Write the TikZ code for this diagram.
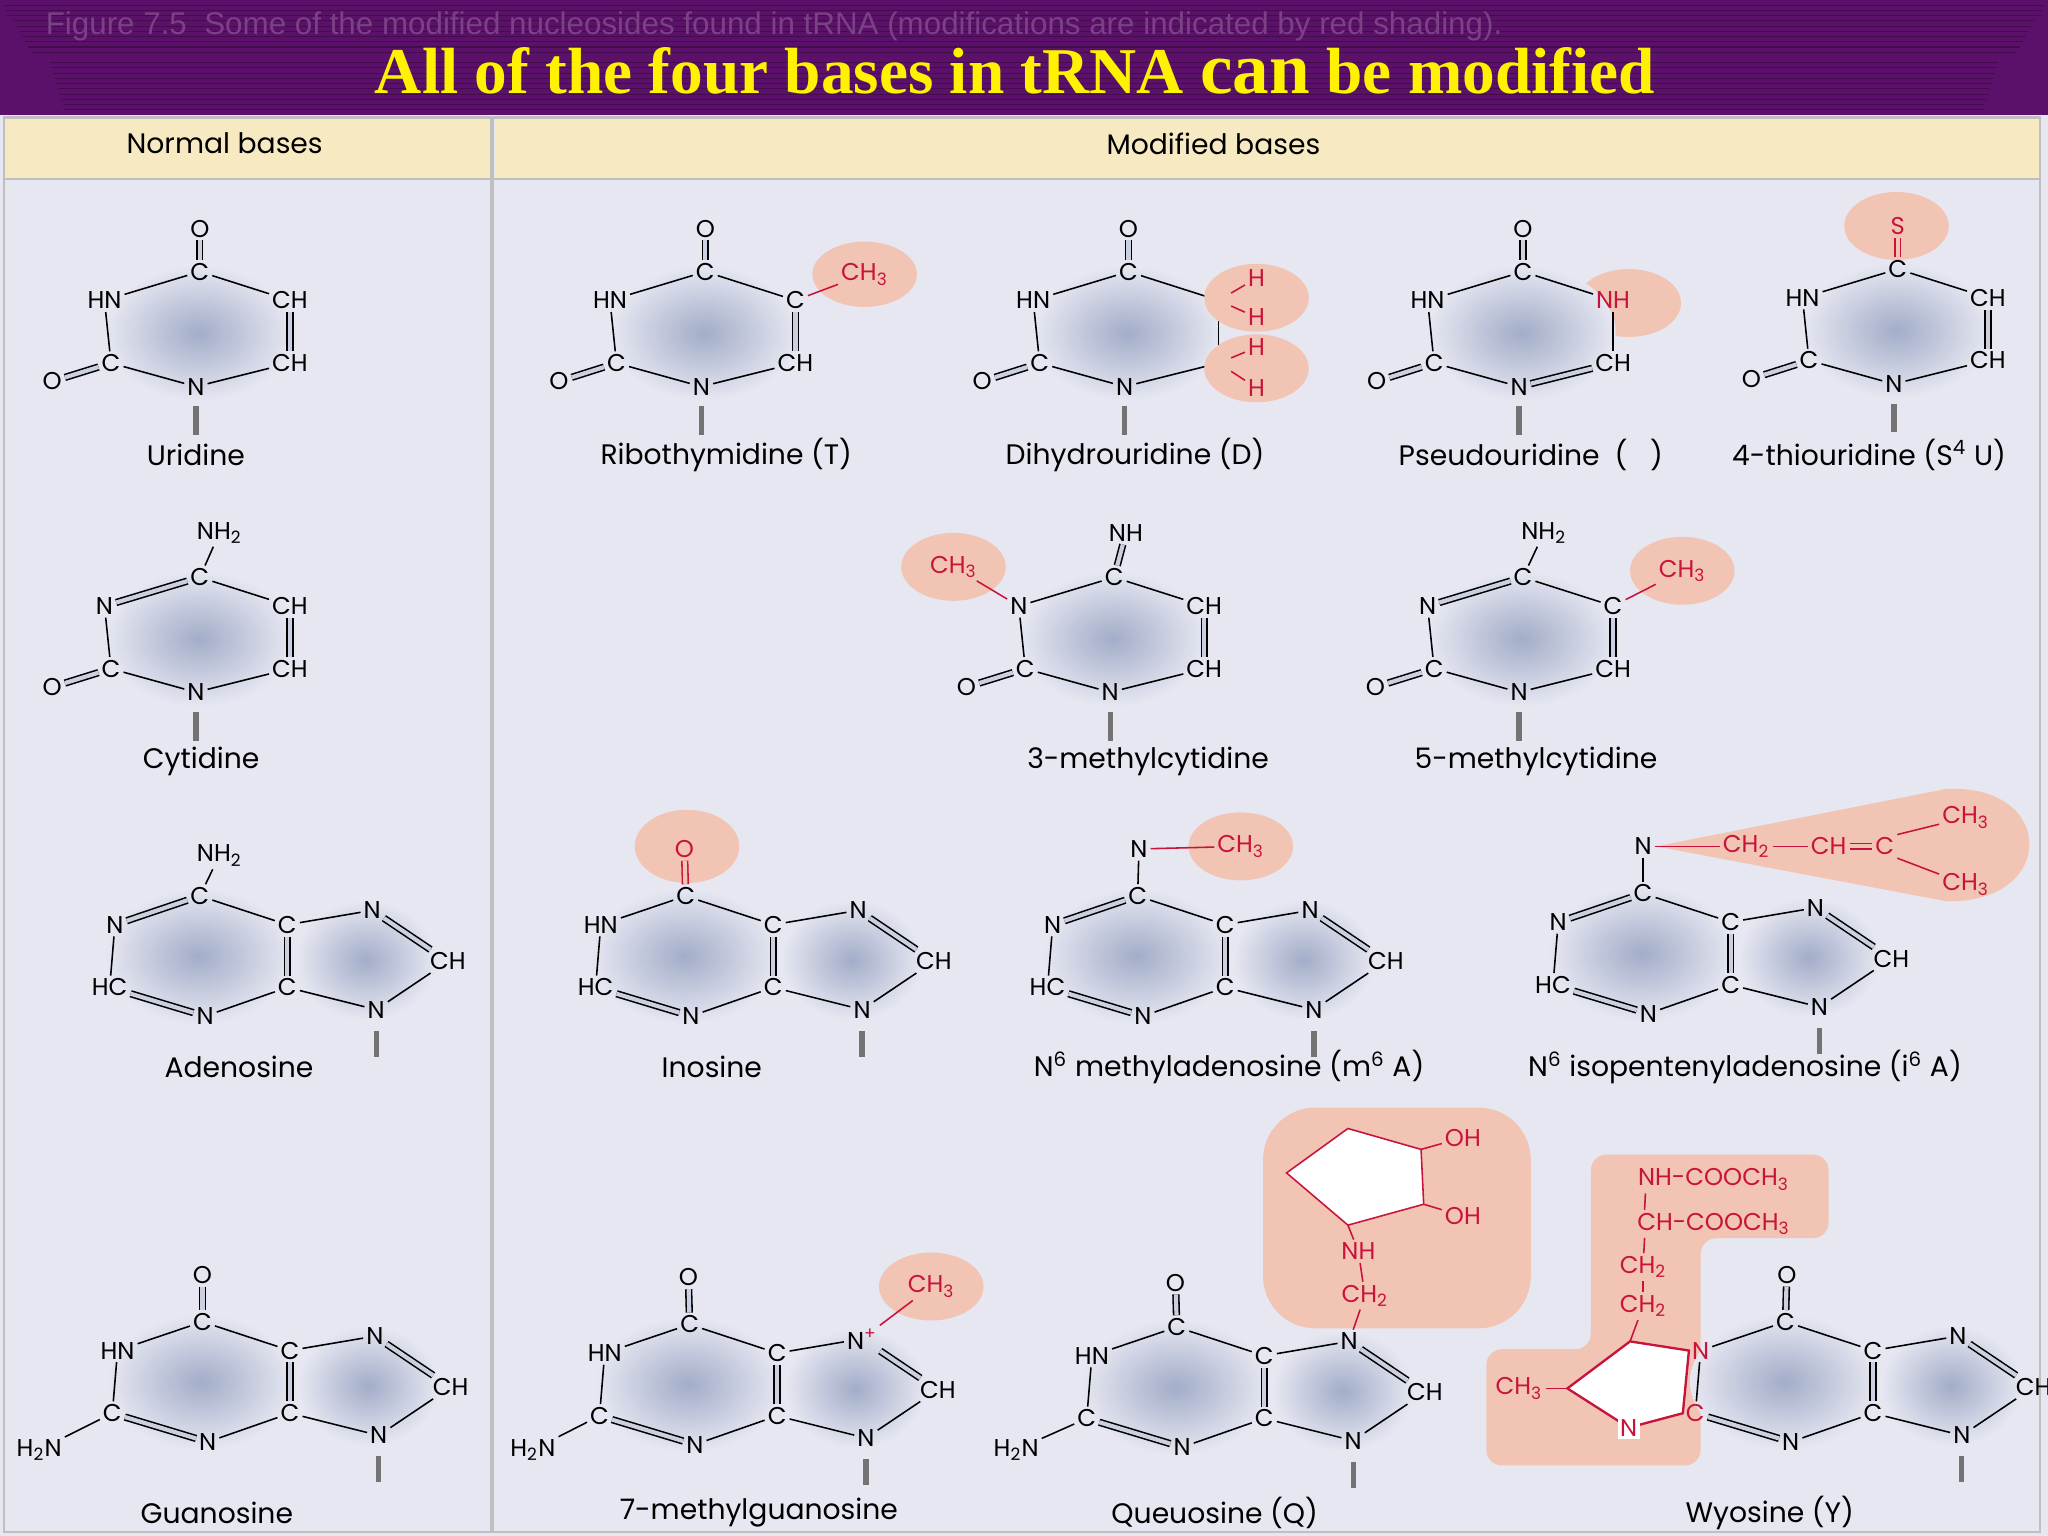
\documentclass[tikz,border=0pt]{standalone}
\usepackage{fontspec}
\setmainfont{Poppins}
\newfontfamily\titlefont{Liberation Serif}
\newfontfamily\figfont{Liberation Sans}
\usetikzlibrary{calc}
\definecolor{panel}{HTML}{E6E7F1}
\definecolor{ringc}{HTML}{A3ADC9}
\definecolor{pinkc}{HTML}{F2C4B3}
\definecolor{redc}{HTML}{C8143C}
\definecolor{headc}{HTML}{F7EAC3}
\definecolor{titlebg}{HTML}{5B1069}
\tikzset{
 atom/.style={inner sep=1pt,font=\fontsize{9.3}{10}\selectfont},
 ratom/.style={atom,text=redc},
 lbl/.style={font=\fontsize{10.8}{11}\selectfont},
 bd/.style={draw=black,line width=0.6pt},
 db/.style={draw=black,line width=0.6pt,double,double distance=1.6pt,double=panel!60!ringc},
 rb/.style={draw=redc,line width=0.6pt},
 rdb/.style={draw=redc,line width=0.6pt,double,double distance=1.6pt,double=pinkc},
 stubl/.style={draw=black!55,line width=2pt},
 hl/.style={fill=pinkc}
}
% pyrimidine: prefix, cx, cy, t4, t3, t5, t6, t2, t1
\newcommand\pyr[9]{%
 \shade[inner color=ringc,outer color=panel] (#2+2,#3) ellipse [x radius=36pt,y radius=26pt];
 \node[atom] (#1c4) at (#2+3,#3-47) {#4};
 \node[atom] (#1c3) at (#2-70,#3-25) {#5};
 \node[atom] (#1c5) at (#2+72,#3-25) {#6};
 \node[atom] (#1c6) at (#2+72,#3+23) {#7};
 \node[atom] (#1c2) at (#2-65,#3+23) {#8};
 \node[atom] (#1c1) at (#2,#3+41) {#9};
 \draw[stubl] (#2,#3+56) -- (#2,#3+78);}
% ring bonds: prefix, 4-5, 5-6, 6-1, 1-2, 2-3, 3-4
\newcommand\rbonds[7]{%
 \draw[#2] (#1c4)--(#1c5); \draw[#3] (#1c5)--(#1c6); \draw[#4] (#1c6)--(#1c1);
 \draw[#5] (#1c1)--(#1c2); \draw[#6] (#1c2)--(#1c3); \draw[#7] (#1c3)--(#1c4);}
% purine: prefix, cx, cy, t6, t1, t2, t7, bond 1-6
\newcommand\pur[8]{%
 \shade[inner color=ringc,outer color=panel] (#2,#3) ellipse [x radius=36pt,y radius=26pt];
 \shade[inner color=ringc,outer color=panel] (#2+128,#3+3) ellipse [x radius=27pt,y radius=23pt];
 \node[atom] (#1c6) at (#2+1,#3-46) {#4};
 \node[atom] (#1c1) at (#2-64,#3-24) {#5};
 \node[atom] (#1c5) at (#2+68,#3-24) {C};
 \node[atom] (#1c4) at (#2+68,#3+24) {C};
 \node[atom] (#1c2) at (#2-68,#3+24) {#6};
 \node[atom] (#1c3) at (#2+5,#3+46) {N};
 \node[atom] (#1c7) at (#2+133,#3-35) {#7};
 \node[atom] (#1c8) at (#2+191,#3+4) {CH};
 \node[atom] (#1c9) at (#2+136,#3+41) {N};
 \draw[bd] (#1c6)--(#1c5); \draw[db] (#1c5)--(#1c4); \draw[bd] (#1c4)--(#1c3);
 \draw[db] (#1c3)--(#1c2); \draw[bd] (#1c2)--(#1c1); \draw[#8] (#1c1)--(#1c6);
 \draw[bd] (#1c5)--(#1c7); \draw[db] (#1c7)--(#1c8); \draw[bd] (#1c8)--(#1c9); \draw[bd] (#1c9)--(#1c4);
 \draw[stubl] (#2+136,#3+57) -- (#2+136,#3+77);}
\begin{document}
\begin{tikzpicture}[x=0.5pt,y=-0.5pt]
\useasboundingbox (0,0) rectangle (1568,1176);
% title bar
\fill[titlebg] (0,0) rectangle (1568,88);
\foreach \i in {4,8,...,40} {\draw[titlebg!75!black,line width=0.4pt] (\i*0.6,\i) -- (1568-\i*0.6,\i);}
\foreach \i in {48,52,...,84} {\draw[titlebg!75!black,line width=0.4pt] (24+0.3*\i,\i) -- (1544-0.3*\i,\i);}
\node[text=titlebg!80!white,font=\figfont\fontsize{12}{12}\selectfont,anchor=west] (fig) at (28,20) {Figure 7.5\ \ Some of the modified nucleosides found in tRNA (modifications are indicated by red shading).};
\node[text=yellow,font=\titlefont\bfseries\fontsize{25}{26}\selectfont] (title) at (777,54) {All of the four bases in tRNA {\fontsize{28}{28}\selectfont can} be modified};
% panels
\fill[panel] (0,88) rectangle (1568,1176);
\fill[headc] (3,90) rectangle (375,137);
\fill[headc] (380,90) rectangle (1562,137);
\draw[black!25,line width=1pt] (3,90) rectangle (1562,1173);
\draw[black!25,line width=1.5pt] (377,90) -- (377,1173);
\draw[black!25,line width=1pt] (3,137) -- (1562,137);
\node[lbl] (hn) at (172,110) {Normal bases};
\node[lbl] (hm) at (929,110) {Modified bases};

% ===== Row 1 =====
\pyr{u}{150}{255}{C}{HN}{CH}{CH}{C}{N}
\rbonds{u}{bd}{db}{bd}{bd}{bd}{bd}
\node[atom] (uo) at (153,175) {O}; \draw[db] (uo)--(uc4);
\node[atom] (uo2) at (40,292) {O}; \draw[db] (uo2)--(uc2);
\node[lbl] (ul) at (150,348) {Uridine};

\pyr{t}{537}{255}{C}{HN}{C}{CH}{C}{N}
\rbonds{t}{bd}{db}{bd}{bd}{bd}{bd}
\node[atom] (to) at (540,175) {O}; \draw[db] (to)--(tc4);
\node[atom] (to2) at (428,292) {O}; \draw[db] (to2)--(tc2);
\fill[hl] (662,210) ellipse [x radius=20pt,y radius=12.5pt];
\node[ratom] (tme) at (662,210) {CH\textsubscript{3}}; \draw[rb] (tc5)--(tme);
\node[lbl] (tl) at (556,348) {Ribothymidine (T)};

\pyr{d}{861}{255}{C}{HN}{C}{C}{C}{N}
\rbonds{d}{bd}{bd}{bd}{bd}{bd}{bd}
\node[atom] (do) at (864,175) {O}; \draw[db] (do)--(dc4);
\node[atom] (do2) at (752,292) {O}; \draw[db] (do2)--(dc2);
\fill[hl] (962,228) ellipse [x radius=20pt,y radius=13pt];
\fill[hl] (962,282) ellipse [x radius=20pt,y radius=13pt];
\node[ratom] (dh1) at (962,213) {H}; \node[ratom] (dh2) at (962,243) {H};
\node[ratom] (dh3) at (962,266) {H}; \node[ratom] (dh4) at (962,297) {H};
\draw[rb] (dc5)--(dh1); \draw[rb] (dc5)--(dh2); \draw[rb] (dc6)--(dh3); \draw[rb] (dc6)--(dh4);
\node[lbl] (dl) at (869,348) {Dihydrouridine (D)};

\fill[hl] (1247,232) ellipse [x radius=20pt,y radius=13pt];
\pyr{p}{1163}{255}{C}{HN}{\textcolor{redc}{NH}}{CH}{C}{N}
\rbonds{p}{bd}{bd}{db}{bd}{bd}{bd}
\node[atom] (po) at (1166,175) {O}; \draw[db] (po)--(pc4);
\node[atom] (po2) at (1054,292) {O}; \draw[db] (po2)--(pc2);
\node[lbl] (pl) at (1172,348) {Pseudouridine\ \ (\ \ \ )};

\fill[hl] (1452,173) ellipse [x radius=20pt,y radius=13pt];
\pyr{s}{1450}{253}{C}{HN}{CH}{CH}{C}{N}
\rbonds{s}{bd}{db}{bd}{bd}{bd}{bd}
\node[ratom] (ss) at (1453,173) {S}; \draw[rdb] (ss)--(sc4);
\node[atom] (so2) at (1341,290) {O}; \draw[db] (so2)--(sc2);
\node[lbl] (sl) at (1431,348) {4-thiouridine (S\textsuperscript{4} U)};

% ===== Row 2 =====
\pyr{c}{150}{489}{C}{N}{CH}{CH}{C}{N}
\rbonds{c}{bd}{db}{bd}{bd}{bd}{db}
\node[atom] (cn) at (168,408) {NH\textsubscript{2}}; \draw[bd] (cn)--(cc4);
\node[atom] (co2) at (40,526) {O}; \draw[db] (co2)--(cc2);
\node[lbl] (cl) at (154,583) {Cytidine};

\fill[hl] (730,434) ellipse [x radius=20pt,y radius=13pt];
\pyr{m}{850}{489}{C}{N}{CH}{CH}{C}{N}
\rbonds{m}{bd}{db}{bd}{bd}{bd}{bd}
\node[atom] (mn) at (862,408) {NH}; \draw[db] (mn)--(mc4);
\node[atom] (mo2) at (740,526) {O}; \draw[db] (mo2)--(mc2);
\node[ratom] (mme) at (730,434) {CH\textsubscript{3}}; \draw[rb] (mme)--(mc3);
\node[lbl] (ml) at (879,583) {3-methylcytidine};

\fill[hl] (1288,437) ellipse [x radius=20pt,y radius=13pt];
\pyr{f}{1163}{489}{C}{N}{C}{CH}{C}{N}
\rbonds{f}{bd}{db}{bd}{bd}{bd}{db}
\node[atom] (fn) at (1182,408) {NH\textsubscript{2}}; \draw[bd] (fn)--(fc4);
\node[atom] (fo2) at (1053,526) {O}; \draw[db] (fo2)--(fc2);
\node[ratom] (fme) at (1288,437) {CH\textsubscript{3}}; \draw[rb] (fc5)--(fme);
\node[lbl] (fl) at (1176,583) {5-methylcytidine};

% ===== Row 3 =====
\pur{a}{152}{732}{C}{N}{HC}{N}{db}
\node[atom] (an) at (168,655) {NH\textsubscript{2}}; \draw[bd] (an)--(ac6);
\node[lbl] (al) at (183,817) {Adenosine};

\fill[hl] (526,648) ellipse [x radius=20pt,y radius=14pt];
\pur{i}{524}{732}{C}{HN}{HC}{N}{bd}
\node[ratom] (io) at (524,650) {O}; \draw[rdb] (io)--(ic6);
\node[lbl] (il) at (545,817) {Inosine};

\fill[hl] (950,648) ellipse [x radius=20pt,y radius=13pt];
\pur{n}{870}{732}{C}{N}{HC}{N}{db}
\node[atom] (nn) at (872,650) {N}; \draw[bd] (nn)--(nc6);
\node[ratom] (nme) at (950,648) {CH\textsubscript{3}}; \draw[rb] (nn)--(nme);
\node[lbl] (nl) at (941,817) {N\textsuperscript{6} methyladenosine (m\textsuperscript{6} A)};

\fill[hl] (1268,648) -- (1490,604) .. controls (1575,600) and (1575,692) .. (1490,690) -- cycle;
\pur{e}{1257}{730}{C}{N}{HC}{N}{db}
\node[atom] (en) at (1258,648) {N}; \draw[bd] (en)--(ec6);
\node[ratom] (ech2) at (1337,648) {CH\textsubscript{2}};
\node[ratom] (ech) at (1400,648) {CH};
\node[ratom] (ec) at (1443,648) {C};
\node[ratom] (eme1) at (1505,626) {CH\textsubscript{3}};
\node[ratom] (eme2) at (1505,677) {CH\textsubscript{3}};
\draw[rb] (en)--(ech2); \draw[rb] (ech2)--(ech); \draw[rdb] (ech)--(ec);
\draw[rb] (ec.north east)--(eme1); \draw[rb] (ec.south east)--(eme2);
\node[lbl] (el) at (1336,817) {N\textsuperscript{6} isopentenyladenosine (i\textsuperscript{6} A)};

% ===== Row 4 =====
\pur{g}{154}{1058}{C}{HN}{C}{N}{bd}
\node[atom] (go) at (155,976) {O}; \draw[db] (go)--(gc6);
\node[atom] (gn) at (30,1110) {H\textsubscript{2}N}; \draw[bd] (gn)--(gc2);
\node[lbl] (gl) at (166,1158) {Guanosine};

\fill[hl] (713,985) ellipse [x radius=20pt,y radius=13pt];
\pur{w}{527}{1060}{C}{HN}{C}{N\textsuperscript{\textcolor{redc}{+}}}{bd}
\node[atom] (wo) at (527,978) {O}; \draw[db] (wo)--(wc6);
\node[atom] (wn) at (408,1110) {H\textsubscript{2}N}; \draw[bd] (wn)--(wc2);
\node[ratom] (wme) at (713,985) {CH\textsubscript{3}}; \draw[rb] (wc7)--(wme);
\node[lbl] (wl) at (581,1158) {7-methylguanosine};

\fill[hl,rounded corners=20pt] (967,848) rectangle (1172,1017);
\pur{q}{900}{1062}{C}{HN}{C}{N}{bd}
\node[atom] (qo) at (900,982) {O}; \draw[db] (qo)--(qc6);
\node[atom] (qn) at (778,1110) {H\textsubscript{2}N}; \draw[bd] (qn)--(qc2);
\filldraw[fill=white,draw=redc,line width=0.6pt] (985,898) coordinate (qv1) -- (1032,864) coordinate (qv2) -- (1088,880) coordinate (qv3) -- (1090,922) coordinate (qv4) -- (1032,938) coordinate (qv5) -- cycle;
\node[ratom] (qoh1) at (1120,871) {OH}; \node[ratom] (qoh2) at (1120,931) {OH};
\draw[rb] (qv3)--(qoh1); \draw[rb] (qv4)--(qoh2);
\node[ratom] (qnh) at (1040,958) {NH}; \node[ratom] (qch) at (1045,992) {CH\textsubscript{2}};
\draw[rb] (qv5)--(qnh); \draw[rb] (qnh)--(qch); \draw[rb] (qch)--(qc7);
\node[lbl] (ql) at (930,1158) {Queuosine (Q)};

\fill[hl,rounded corners=6pt] (1218,884) -- (1400,884) -- (1400,948) -- (1302,948) -- (1302,1122) -- (1138,1122) -- (1138,1033) -- (1218,1033) -- cycle;
\pur{y}{1366}{1058}{C}{\textcolor{redc}{N}}{\textcolor{redc}{C}}{N}{bd}
\node[atom] (yo) at (1368,976) {O}; \draw[db] (yo)--(yc6);
\filldraw[fill=white,draw=redc,line width=0.9pt] (1248,1027) coordinate (yv1) -- (yc1.west) -- (yc2.west) -- (1247,1093) coordinate (yv4) -- (1200,1063) coordinate (yv5) -- cycle;
\node[ratom,fill=white] (yn) at (1247,1093) {N};
\node[ratom] (yme) at (1163,1063) {CH\textsubscript{3}}; \draw[rb] (yme)--(yv5);
\node[ratom] (ya) at (1312,903) {NH-COOCH\textsubscript{3}};
\node[ratom] (yb) at (1312,937) {CH-COOCH\textsubscript{3}};
\node[ratom] (yc) at (1258,970) {CH\textsubscript{2}};
\node[ratom] (yd) at (1258,1000) {CH\textsubscript{2}};
\draw[rb] ($(ya.south west)+(8,0)$) -- ($(yb.north west)+(8,0)$);
\draw[rb] ($(yb.south west)+(8,0)$) -- (yc);
\draw[rb] (yc)--(yd); \draw[rb] (yd)--(yv1);
\node[lbl] (yl) at (1355,1158) {Wyosine (Y)};
\end{tikzpicture}
\end{document}
